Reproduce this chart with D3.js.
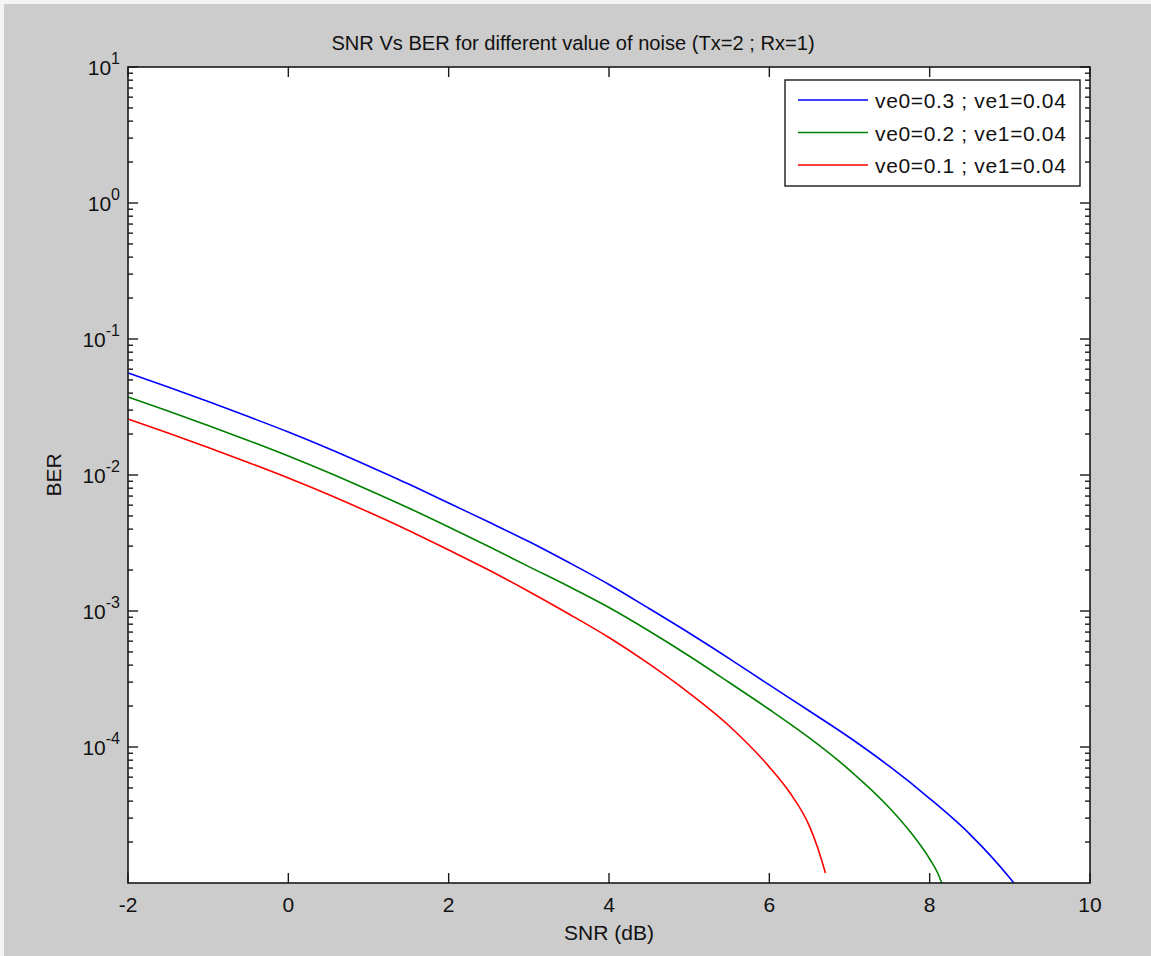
<!DOCTYPE html>
<html>
<head>
<meta charset="utf-8">
<script src="https://cdn.jsdelivr.net/npm/d3@7"></script>
<style>
  html, body { margin: 0; padding: 0; background: #fff; }
  svg { display: block; }
  text { font-family: "Liberation Sans", Arial, sans-serif; fill: #111; }
</style>
</head>
<body>
<svg width="1151" height="956"></svg>
<script>
// SNR (dB) sample points and BER
const snrBlue  = [-2, -1.5, -1, -0.5, 0, 0.5, 1, 1.5, 2, 2.5, 3, 3.5, 4, 4.5, 5, 5.5, 6, 6.5, 7, 7.5, 8, 8.5, 9, 9.05];
const berBlue  = [0.0562, 0.0444, 0.0347, 0.0269, 0.0207, 0.01566, 0.01165, 0.00859, 0.00622, 0.00451, 0.00324, 0.00227,
                  0.001566, 0.001043, 6.89e-4, 4.47e-4, 2.86e-4, 1.84e-4, 1.174e-4, 7.19e-5, 4.18e-5, 2.29e-5, 1.088e-5, 1.0e-5];

const snrGreen = [-2, -1.5, -1, -0.5, 0, 0.5, 1, 1.5, 2, 2.5, 3, 3.5, 4, 4.5, 5, 5.5, 6, 6.5, 7, 7.5, 7.75, 8, 8.1, 8.15];
const berGreen = [0.0375, 0.0296, 0.0231, 0.01794, 0.01379, 0.01043, 0.00776, 0.00572, 0.00415, 0.00298, 0.00212, 0.001514,
                  0.001061, 7.13e-4, 4.67e-4, 2.98e-4, 1.887e-4, 1.165e-4, 6.77e-5, 3.56e-5, 2.41e-5, 1.502e-5, 1.184e-5, 1.0e-5];

const snrRed   = [-2, -1.5, -1, -0.5, 0, 0.5, 1, 1.5, 2, 2.5, 3, 3.5, 4, 4.5, 5, 5.5, 6, 6.25, 6.5, 6.6, 6.7];
const berRed   = [0.0258, 0.02036, 0.01593, 0.01235, 0.0095, 0.00719, 0.00534, 0.00391, 0.00281, 0.002002, 0.00139, 9.5e-4,
                  6.38e-4, 4.08e-4, 2.49e-4, 1.427e-4, 7.13e-5, 4.67e-5, 2.62e-5, 1.84e-5, 1.184e-5];

const seriesNames  = ["ve0=0.3 ; ve1=0.04", "ve0=0.2 ; ve1=0.04", "ve0=0.1 ; ve1=0.04"];
const seriesColors = ["#0000ff", "#008000", "#ff0000"];

const xTicks = [-2, 0, 2, 4, 6, 8, 10];
const yDecades = [1, 0, -1, -2, -3, -4];

const series = [
  {name: seriesNames[0], color: seriesColors[0], pts: snrBlue.map((s, i) => ({x: s, y: berBlue[i]}))},
  {name: seriesNames[1], color: seriesColors[1], pts: snrGreen.map((s, i) => ({x: s, y: berGreen[i]}))},
  {name: seriesNames[2], color: seriesColors[2], pts: snrRed.map((s, i) => ({x: s, y: berRed[i]}))}
];

const svg = d3.select("svg");
// figure background
svg.append("rect").attr("width", 1151).attr("height", 956).attr("fill", "#f4f4f4");
svg.append("rect").attr("x", 4).attr("y", 4).attr("width", 1147).attr("height", 952).attr("fill", "#cccccc");

const margin = {top: 67, right: 61, bottom: 73, left: 128};
const width = 1151 - margin.left - margin.right;
const height = 956 - margin.top - margin.bottom;
const g = svg.append("g").attr("transform", `translate(${margin.left},${margin.top})`);

const x = d3.scaleLinear().domain([-2, 10]).range([0, width]);
const y = d3.scaleLog().domain([1e-5, 10]).range([height, 0]);

g.append("rect").attr("width", width).attr("height", height).attr("fill", "#fff");

// ticks (inward, on all four sides)
const axisColor = "#1a1a1a";
const minor = y.ticks().filter(v => !yDecades.some(d => Math.abs(Math.log10(v) - d) < 1e-9) && v > 1e-5 && v < 10);

function tickLines(sel, vals, fn) {
  sel.selectAll(null).data(vals).enter().append("line").each(fn);
}
const tk = g.append("g").attr("stroke", axisColor).attr("stroke-width", 1.4);
tickLines(tk, xTicks, function(d) {
  d3.select(this).attr("x1", x(d)).attr("x2", x(d)).attr("y1", height).attr("y2", height - 10);
});
tickLines(tk, xTicks, function(d) {
  d3.select(this).attr("x1", x(d)).attr("x2", x(d)).attr("y1", 0).attr("y2", 10);
});
tickLines(tk, yDecades.map(d => Math.pow(10, d)), function(d) {
  d3.select(this).attr("x1", 0).attr("x2", 10).attr("y1", y(d)).attr("y2", y(d));
});
tickLines(tk, yDecades.map(d => Math.pow(10, d)), function(d) {
  d3.select(this).attr("x1", width).attr("x2", width - 10).attr("y1", y(d)).attr("y2", y(d));
});
tickLines(tk, minor, function(d) {
  d3.select(this).attr("x1", 0).attr("x2", 5).attr("y1", y(d)).attr("y2", y(d));
});
tickLines(tk, minor, function(d) {
  d3.select(this).attr("x1", width).attr("x2", width - 5).attr("y1", y(d)).attr("y2", y(d));
});

// data lines
const line = d3.line().x(d => x(d.x)).y(d => y(d.y)).curve(d3.curveMonotoneX);
g.selectAll(".series").data(series).enter().append("path")
  .attr("class", "series")
  .attr("fill", "none")
  .attr("stroke", d => d.color)
  .attr("stroke-width", 1.6)
  .attr("stroke-linejoin", "round")
  .attr("d", d => line(d.pts));

// frame
g.append("rect").attr("width", width).attr("height", height)
  .attr("fill", "none").attr("stroke", axisColor).attr("stroke-width", 1.6);

// x tick labels
g.selectAll(".xl").data(xTicks).enter().append("text")
  .attr("x", d => x(d)).attr("y", height + 29)
  .attr("text-anchor", "middle").attr("font-size", 21)
  .text(d => d);

// y tick labels: 10^n
const yl = g.selectAll(".yl").data(yDecades).enter().append("text")
  .attr("x", -8).attr("y", d => y(Math.pow(10, d)) + 8)
  .attr("text-anchor", "end").attr("font-size", 21);
yl.append("tspan").text("10");
yl.append("tspan").attr("font-size", 16).attr("dy", -11).text(d => d);

// titles
svg.append("text").attr("x", 573).attr("y", 50).attr("text-anchor", "middle")
  .attr("font-size", 20.1).text("SNR Vs BER for different value of noise (Tx=2 ; Rx=1)");
svg.append("text").attr("x", margin.left + width / 2).attr("y", 940).attr("text-anchor", "middle")
  .attr("font-size", 21).text("SNR (dB)");
svg.append("text").attr("transform", `translate(61,${margin.top + height / 2}) rotate(-90)`)
  .attr("text-anchor", "middle").attr("font-size", 21).text("BER");

// legend
const lg = svg.append("g").attr("transform", "translate(785,80)");
lg.append("rect").attr("width", 295).attr("height", 106).attr("fill", "#fff")
  .attr("stroke", axisColor).attr("stroke-width", 1.4);
const items = lg.selectAll(".li").data(series).enter().append("g")
  .attr("transform", (d, i) => `translate(0,${20 + i * 32.5})`);
items.append("line").attr("x1", 13).attr("x2", 83).attr("y1", 0).attr("y2", 0)
  .attr("stroke", d => d.color).attr("stroke-width", 1.6);
items.append("text").attr("x", 90).attr("y", 8).attr("font-size", 21)
  .attr("letter-spacing", 0.65).text(d => d.name);
</script>
</body>
</html>
